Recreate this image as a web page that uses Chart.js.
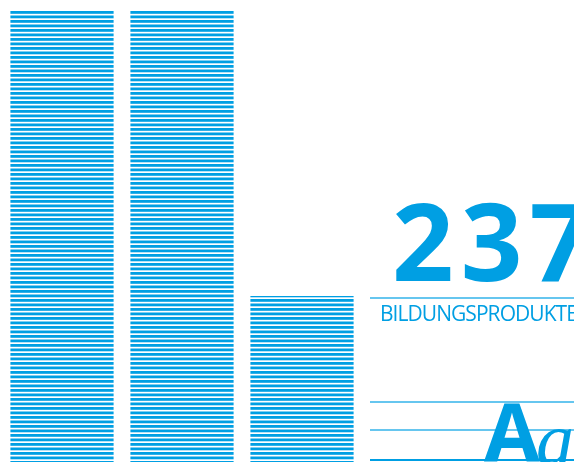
<!DOCTYPE html>
<html>
<head>
<meta charset="utf-8">
<script src="https://cdn.jsdelivr.net/npm/chart.js@4"></script>
<style>
  html, body { margin: 0; padding: 0; background: #fff; overflow: hidden; }
  #wrap { position: relative; width: 574px; height: 462px; overflow: hidden; }
  #chart { position: absolute; left: 0; top: 0; }
  .rule { position: absolute; left: 370px; right: 0; height: 1.5px; background: #66c6ef; }
  .txt { position: absolute; white-space: nowrap; color: #009fe3; line-height: 1; }
</style>
</head>
<body>
<div id="wrap">
  <canvas id="chart" width="574" height="462"></canvas>

  <div class="txt" id="bigNum" style="left:392px; top:166px; font: 700 108px 'Open Sans'; letter-spacing:7px;"></div>
  <div class="rule" style="top:297px;"></div>
  <div class="txt" id="caption" style="left:380px; top:299px; font: 400 21px 'Open Sans'; letter-spacing:-0.95px;"></div>

  <div class="rule" style="top:401px;"></div>
  <div class="rule" style="top:429px;"></div>
  <div class="rule" style="top:459px; height:2px; background:#009fe3;"></div>
  <div class="txt" style="left:484px; top:375px; font: 700 81px 'Open Sans';">A</div>
  <div class="txt" style="left:536px; top:396px; font: italic 400 76px 'Liberation Serif';">a</div>
</div>
<script>
// Werte (geschätzt, Skala 0–100)
const categories = ['Balken 1', 'Balken 2', 'Balken 3', ''];
const values = [100, 100, 36.8, null];
const highlightNumber = '237';
const highlightLabel = 'BILDUNGSPRODUKTE';

document.getElementById('bigNum').textContent = highlightNumber;
document.getElementById('caption').textContent = highlightLabel;

const BLUE = '#009fe3';

// Streifenmuster für die Balken
function stripePattern(ctx) {
    const tile = document.createElement('canvas');
    tile.width = 8;
    tile.height = 9;
    const t = tile.getContext('2d');
    t.fillStyle = BLUE;
    const off = 11 % 9;
    for (let k = -2; k <= 2; k++) {
        t.fillRect(0, off + k * 4.5, 8, 2.8);
    }
    return ctx.createPattern(tile, 'repeat');
}

const ctx = document.getElementById('chart').getContext('2d');

new Chart(ctx, {
    type: 'bar',
    data: {
        labels: categories,
        datasets: [{
            data: values,
            backgroundColor: stripePattern(ctx),
            borderWidth: 0,
            barPercentage: 0.86,
            categoryPercentage: 1,
        }],
    },
    options: {
        responsive: false,
        animation: false,
        layout: { padding: { left: 2, right: 92, top: 11, bottom: 0 } },
        plugins: { legend: { display: false }, tooltip: { enabled: false } },
        scales: {
            x: { display: false, grid: { display: false } },
            y: { display: false, min: 0, max: 100, grid: { display: false } },
        },
    },
});
</script>
</body>
</html>
